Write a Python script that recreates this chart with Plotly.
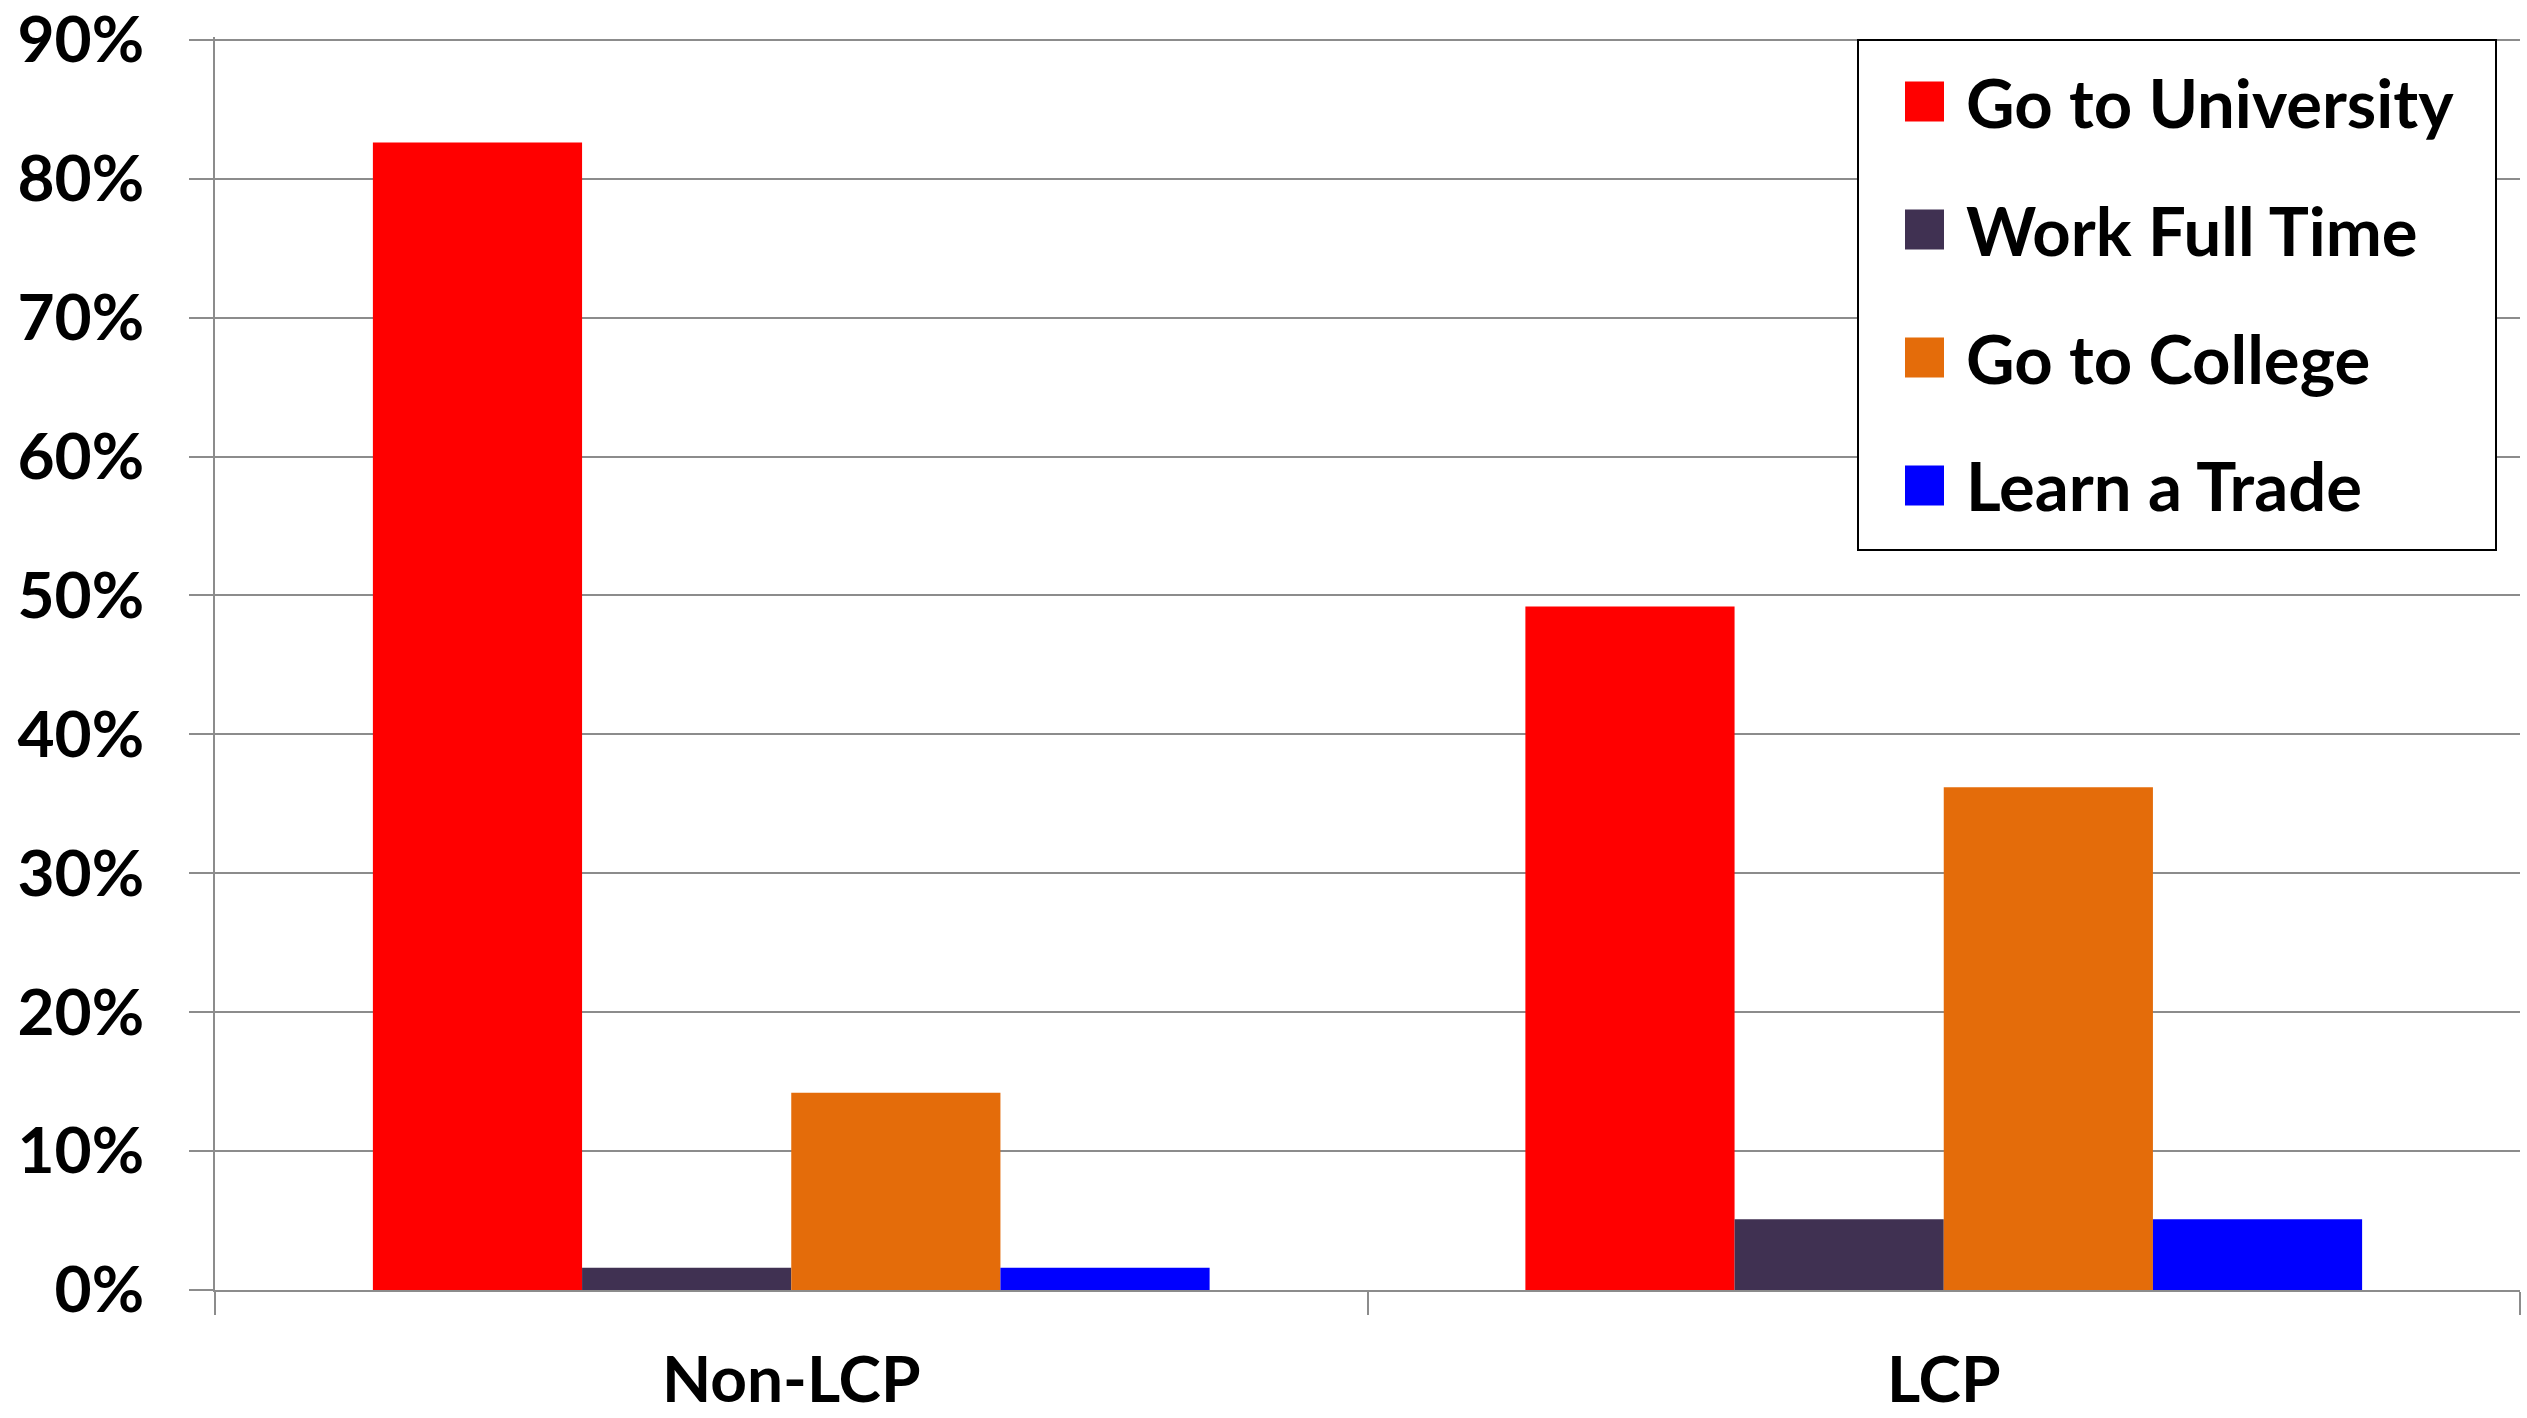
import plotly.graph_objects as go

categories = ["Non-LCP", "LCP"]
series_names = ["Go to University", "Work Full Time", "Go to College", "Learn a Trade"]
go_to_university = [0.826, 0.492]
work_full_time = [0.016, 0.051]
go_to_college = [0.142, 0.362]
learn_a_trade = [0.016, 0.051]
series_values = [go_to_university, work_full_time, go_to_college, learn_a_trade]
colors = ["#FF0000", "#403152", "#E46C0A", "#0000FF"]
y_tick_values = [0, 0.1, 0.2, 0.3, 0.4, 0.5, 0.6, 0.7, 0.8, 0.9]
y_tick_labels = ["0%", "10%", "20%", "30%", "40%", "50%", "60%", "70%", "80%", "90%"]

W, H = 2527, 1418
YMAX = 0.902
# target pixels: plot left 215, right 2520, 0% at 1290, 90% at 40
L = 215
R = W - 2520
B = H - 1290
PH = round((1290 - 40) * YMAX / 0.9)
T = H - B - PH
PW = W - L - R
FONT = "Lato"
GRID = "#8C8C8C"

def px_x(p):
    return (p - L) / PW

def px_y(p):
    return (H - B - p) / PH

fig = go.Figure()
for name, vals, col in zip(series_names, series_values, colors):
    fig.add_trace(go.Bar(x=categories, y=vals, name=name, marker=dict(color=col, line=dict(width=0)),
                         showlegend=False))

shapes = []
annotations = []
# custom legend box
shapes.append(dict(type="rect", xref="paper", yref="paper",
                   x0=px_x(1858), x1=px_x(2496), y0=px_y(550), y1=px_y(40),
                   fillcolor="white", line=dict(color="black", width=2), layer="above"))
for i, (name, col) in enumerate(zip(series_names, colors)):
    cy = 101.5 + i * 128
    shapes.append(dict(type="rect", xref="paper", yref="paper",
                       x0=px_x(1905), x1=px_x(1944), y0=px_y(cy + 20), y1=px_y(cy - 20),
                       fillcolor=col, line=dict(width=0), layer="above"))
    annotations.append(dict(xref="paper", yref="paper", x=px_x(1964), y=px_y(cy),
                            xanchor="left", yanchor="middle", text="<b>%s</b>" % name,
                            showarrow=False, font=dict(family=FONT, size=67, color="black")))

fig.update_layout(
    width=W, height=H,
    margin=dict(l=L, r=R, t=T, b=B, pad=0, autoexpand=False),
    paper_bgcolor="white", plot_bgcolor="white",
    barmode="group", bargap=0.274, bargroupgap=0,
    shapes=shapes, annotations=annotations,
    font=dict(family=FONT, color="black"),
)
fig.update_xaxes(
    type="category", automargin=False,
    tickmode="array", tickvals=categories, ticktext=["<b>%s</b>" % c for c in categories],
    tickfont=dict(family=FONT, size=64, color="black"),
    showline=True, linecolor=GRID, linewidth=2,
    ticks="outside", tickson="boundaries", ticklen=23, tickwidth=2, tickcolor=GRID,
    showgrid=False, ticklabelstandoff=33,
)
fig.update_yaxes(
    range=[0, YMAX], automargin=False, tickmode="array", tickvals=y_tick_values,
    ticktext=["<b>%s</b>" % t for t in y_tick_labels],
    tickfont=dict(family=FONT, size=64, color="black"),
    ticklabeloverflow="allow",
    showline=True, linecolor=GRID, linewidth=2,
    ticks="outside", ticklen=24, tickwidth=2, tickcolor=GRID,
    showgrid=True, gridcolor=GRID, gridwidth=2, zeroline=False,
    ticklabelstandoff=32,
)
fig.write_html("out.html", config={"displayModeBar": False},
               post_script="document.body.style.margin='0px';")
